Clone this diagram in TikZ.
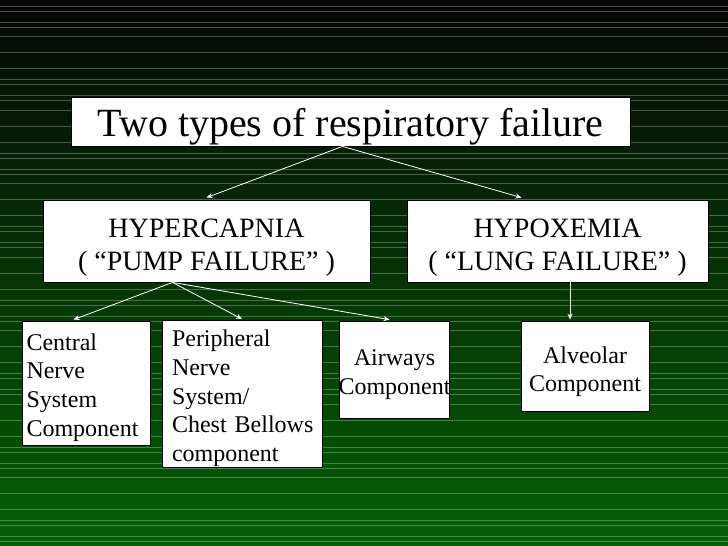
\documentclass[tikz,border=0pt]{standalone}
\usepackage{fontspec}
\setmainfont{Liberation Serif}
\usetikzlibrary{arrows.meta}
\definecolor{bgtop}{RGB}{6,6,6}
\definecolor{bgbot}{RGB}{4,96,4}
\newcommand{\topstrut}[1]{\rule{0pt}{#1pt}}
\newcommand{\botstrut}[1]{\rule[-#1pt]{0pt}{#1pt}}
\tikzset{
  stripe/.style={draw=white, opacity=0.28, line width=1pt},
  box/.style={draw=black, fill=white, line width=0.8pt, inner sep=0pt, text=black},
  big/.style={font=\fontsize{40}{48}\selectfont},
  mid/.style={font=\fontsize{28}{33}\selectfont},
  small/.style={font=\fontsize{24}{28.8}\selectfont},
  arr/.style={draw=white, line width=0.8pt, -{Stealth[length=6pt,width=5pt]}}
}
\begin{document}
\begin{tikzpicture}[x=1pt,y=-1pt]
\useasboundingbox (0,0) rectangle (728,546);
\shade[top color=bgtop, bottom color=bgbot] (0,0) rectangle (728,546);
\foreach \k in {0,...,8}{
  \foreach \o in {0,16,32,43,48,59,64}{
    \pgfmathsetmacro\yy{-37+73.5*\k+\o}
    \draw[stripe] (0,\yy) -- (728,\yy);
  }
}
\node[box, big, minimum width=559, minimum height=47, text height=39, text depth=10] (title) at (350.5,121.5) {Two types of respiratory failure};
\node[box, mid, minimum width=327, minimum height=82, align=center] (hyper) at (206.5,241) {\topstrut{33}HYPERCAPNIA\\( “PUMP FAILURE” )\botstrut{7}};
\node[box, mid, minimum width=301, minimum height=82, align=center] (hypo) at (557.5,241) {\topstrut{33}HYPOXEMIA\\( “LUNG FAILURE” )\botstrut{7}};
\node[box, small, minimum width=128, minimum height=124, text width=120, inner xsep=4, align=left] (central) at (86.5,383) {\topstrut{26.5}Central\\Nerve\\System\\Component\botstrut{6}};
\node[box, small, minimum width=160, minimum height=146, text width=140, inner xsep=10, align=left] (periph) at (242,394) {\topstrut{26}Peripheral\\Nerve\\System/\\\mbox{Chest Bellows}\\component\botstrut{6}};
\node[box, small, minimum width=110, minimum height=97, text width=110, align=center] (airways) at (394.5,369.5) {\topstrut{27.5}Airways\\\makebox[110pt][c]{Component}\botstrut{6}};
\node[box, small, minimum width=128, minimum height=90, text width=128, align=center] (alveolar) at (585,366) {\topstrut{29}Alveolar\\Component\botstrut{6}};
\draw[arr] ([xshift=-8]title.south) -- ([yshift=2]hyper.north);
\draw[arr] ([xshift=-8]title.south) -- ([xshift=-36,yshift=2]hypo.north);
\draw[arr] ([xshift=-34]hyper.south) -- ([xshift=-13,yshift=1]central.north);
\draw[arr] ([xshift=-34]hyper.south) -- ([yshift=1]periph.north);
\draw[arr] ([xshift=-34]hyper.south) -- ([xshift=-5,yshift=1]airways.north);
\draw[arr] ([xshift=12.5]hypo.south) -- ([xshift=-15,yshift=1]alveolar.north);
\end{tikzpicture}
\end{document}
